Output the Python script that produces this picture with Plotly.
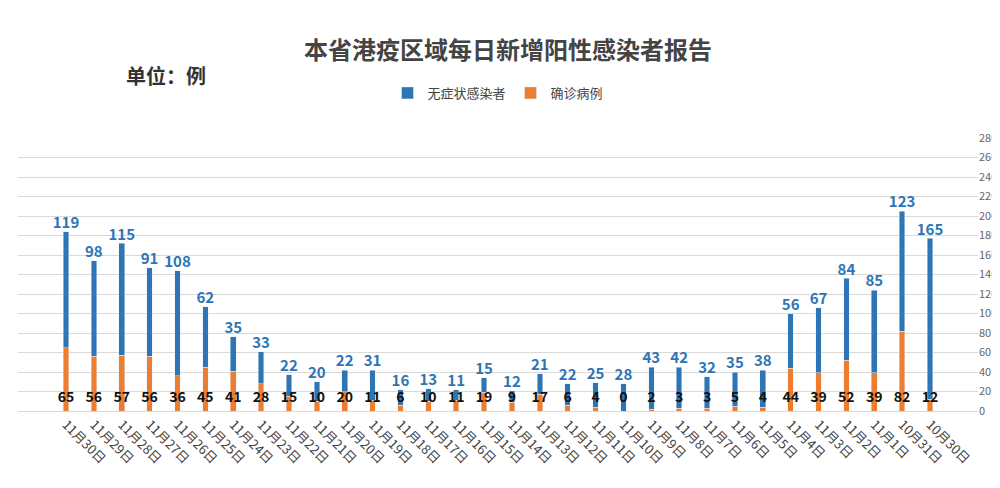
import plotly.graph_objects as go

# dates, left to right as in the (mirrored) reference
dates = ["11月30日", "11月29日", "11月28日", "11月27日", "11月26日", "11月25日", "11月24日", "11月23日",
         "11月22日", "11月21日", "11月20日", "11月19日", "11月18日", "11月17日", "11月16日", "11月15日",
         "11月14日", "11月13日", "11月12日", "11月11日", "11月10日", "11月9日", "11月8日", "11月7日",
         "11月6日", "11月5日", "11月4日", "11月3日", "11月2日", "11月1日", "10月31日", "10月30日"]
wuzhengzhuang = [119, 98, 115, 91, 108, 62, 35, 33, 22, 20, 22, 31, 16, 13, 11, 15,
                 12, 21, 22, 25, 28, 43, 42, 32, 35, 38, 56, 67, 84, 85, 123, 165]
quezhen = [65, 56, 57, 56, 36, 45, 41, 28, 15, 10, 20, 11, 6, 10, 11, 19,
           9, 17, 6, 4, 0, 2, 3, 3, 5, 4, 44, 39, 52, 39, 82, 12]

blue = "#2e75b6"
orange = "#ed7d31"
totals = [a + b for a, b in zip(wuzhengzhuang, quezhen)]

fig = go.Figure()
fig.add_bar(x=dates, y=quezhen, name="确诊病例", marker_color=orange, width=0.2)
fig.add_bar(x=dates, y=wuzhengzhuang, name="无症状感染者", marker_color=blue, width=0.2)
fig.add_scatter(x=dates, y=totals, mode="text", text=[f"<b>{v}</b>" for v in wuzhengzhuang],
                textposition="top center", showlegend=False,
                textfont=dict(color=blue, size=15, family="Noto Sans CJK SC"))
fig.add_scatter(x=dates, y=[13] * len(dates), mode="text", text=[f"<b>{v}</b>" for v in quezhen],
                textposition="middle center", showlegend=False,
                textfont=dict(color="#111111", size=14, family="Noto Sans CJK SC"))

fig.update_layout(
    barmode="stack",
    width=1000, height=488,
    paper_bgcolor="white", plot_bgcolor="white",
    font=dict(family="Noto Sans CJK SC", color="#444"),
    title=dict(text="<b>本省港疫区域每日新增阳性感染者报告</b>", x=0.5, y=0.93,
               font=dict(size=24, color="#444")),
    legend=dict(orientation="h", x=0.5, xanchor="center", y=1.22, font=dict(size=13),
                traceorder="reversed"),
    margin=dict(l=10, r=30, t=130, b=85),
    annotations=[dict(text="<b>单位：例</b>", x=0.11, y=1.29, xref="paper", yref="paper",
                      showarrow=False, font=dict(size=20, color="#333"))],
)
fig.update_xaxes(tickangle=45, tickfont=dict(size=13, color="#444"),
                 showline=True, linecolor="#d9d9d9")
fig.update_yaxes(side="right", range=[0, 280], dtick=20, gridcolor="#d9d9d9",
                 tickfont=dict(size=11, color="#666"), zeroline=False)

fig.write_html("out.html")
